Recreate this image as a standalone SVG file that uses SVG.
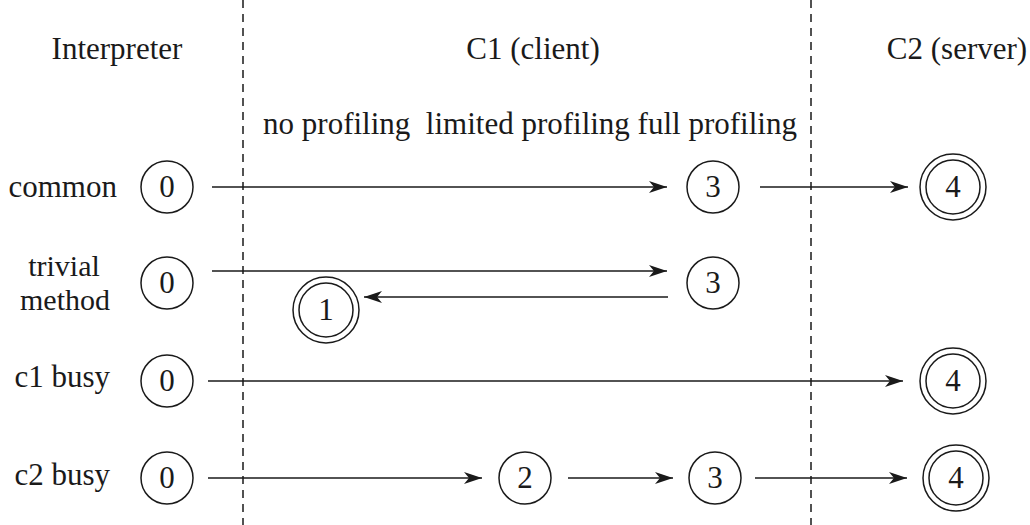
<svg xmlns="http://www.w3.org/2000/svg" width="1030" height="525" viewBox="0 0 1030 525">
<style>
text{font-family:'Liberation Serif','Times New Roman',serif;font-size:31px;fill:#1a1a1a}
.n{text-anchor:middle}
.s{font-size:30px}
.c{fill:#fff;stroke:#1a1a1a;stroke-width:1.5}
.e{stroke:#1a1a1a;stroke-width:1.5;fill:none;marker-end:url(#ah)}
.d{stroke:#1a1a1a;stroke-width:1.5;stroke-dasharray:8 6}
</style>
<defs>
<marker id="ah" viewBox="0 0 18 12" refX="18" refY="6" markerWidth="18" markerHeight="12" markerUnits="userSpaceOnUse" orient="auto">
<path d="M0,0 L18,6 L0,12 L5,6 Z" fill="#1a1a1a"/>
</marker>
</defs>
<rect width="1030" height="525" fill="#fff"/>
<g id="dividers">
<line class="d" x1="243" y1="0" x2="243" y2="525"/>
<line class="d" x1="811" y1="0" x2="811" y2="525"/>
</g>
<g id="headers">
<text class="n" x="117" y="59">Interpreter</text>
<text class="n" x="533" y="59">C1 (client)</text>
<text class="n" x="957" y="59">C2 (server)</text>
<text class="n" x="530" y="134" xml:space="preserve">no profiling  limited profiling full profiling</text>
</g>
<g id="row-labels">
<text x="117" y="197" text-anchor="end">common</text>
<text class="n s" x="64" y="276">trivial</text>
<text class="n s" x="65" y="310">method</text>
<text x="110" y="387" text-anchor="end">c1 busy</text>
<text x="110" y="485" text-anchor="end">c2 busy</text>
</g>
<g id="connectors">
<line class="e" x1="212" y1="187" x2="667" y2="187"/>
<line class="e" x1="760" y1="187" x2="908" y2="187"/>
<line class="e" x1="212" y1="271" x2="667" y2="271"/>
<line class="e" x1="668" y1="297" x2="364" y2="297"/>
<line class="e" x1="208" y1="381" x2="903" y2="381"/>
<line class="e" x1="208" y1="478" x2="482" y2="478"/>
<line class="e" x1="568" y1="478" x2="673" y2="478"/>
<line class="e" x1="755" y1="478" x2="907" y2="478"/>
</g>
<g id="common-0"><circle class="c" cx="167" cy="187" r="26"/><text class="n" x="167" y="197">0</text></g>
<g id="common-3"><circle class="c" cx="713" cy="187" r="26"/><text class="n" x="713" y="197">3</text></g>
<g id="common-4"><circle class="c" cx="953" cy="187" r="33"/><circle class="c" cx="953" cy="187" r="27"/><text class="n" x="953" y="197">4</text></g>
<g id="trivial-0"><circle class="c" cx="167" cy="283" r="26"/><text class="n" x="167" y="293">0</text></g>
<g id="trivial-3"><circle class="c" cx="713" cy="283" r="26"/><text class="n" x="713" y="293">3</text></g>
<g id="trivial-1"><circle class="c" cx="326" cy="310" r="33"/><circle class="c" cx="326" cy="310" r="27"/><text class="n" x="326" y="320">1</text></g>
<g id="c1busy-0"><circle class="c" cx="167" cy="381" r="26"/><text class="n" x="167" y="391">0</text></g>
<g id="c1busy-4"><circle class="c" cx="953" cy="381" r="33"/><circle class="c" cx="953" cy="381" r="27"/><text class="n" x="953" y="391">4</text></g>
<g id="c2busy-0"><circle class="c" cx="167" cy="478" r="26"/><text class="n" x="167" y="488">0</text></g>
<g id="c2busy-2"><circle class="c" cx="525" cy="478" r="26"/><text class="n" x="525" y="488">2</text></g>
<g id="c2busy-3"><circle class="c" cx="715" cy="478" r="26"/><text class="n" x="715" y="488">3</text></g>
<g id="c2busy-4"><circle class="c" cx="956" cy="478" r="33"/><circle class="c" cx="956" cy="478" r="27"/><text class="n" x="956" y="488">4</text></g>
</svg>
